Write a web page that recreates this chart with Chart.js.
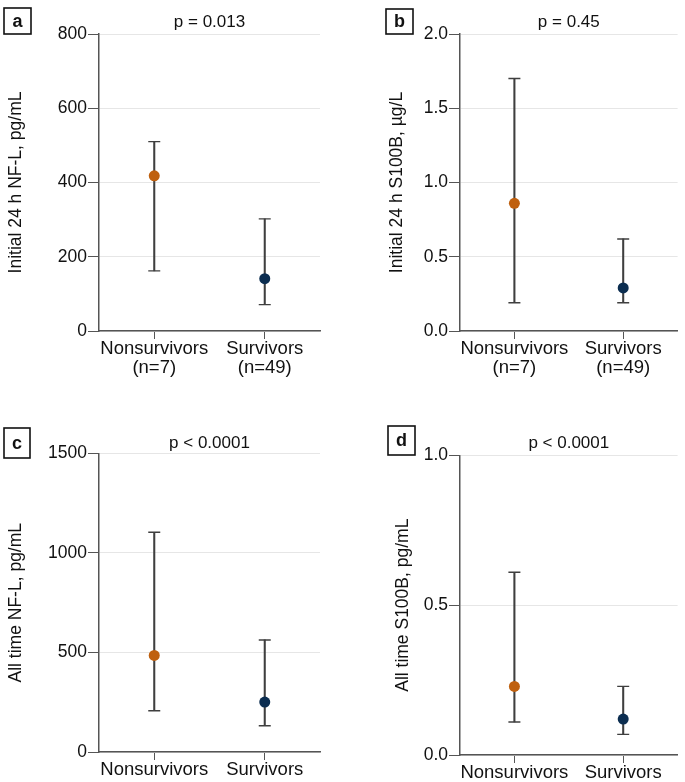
<!DOCTYPE html>
<html>
<head>
<meta charset="utf-8">
<script src="https://cdn.jsdelivr.net/npm/chart.js@4/dist/chart.umd.min.js"></script>
<style>
  body { margin: 0; background: #fff; }
  .panel { position: absolute; }
</style>
</head>
<body>
<div class="panel" style="left:0;top:0;width:342px;height:390px"><canvas id="pa"></canvas></div>
<div class="panel" style="left:342px;top:0;width:343px;height:390px"><canvas id="pb"></canvas></div>
<div class="panel" style="left:0;top:390px;width:342px;height:392px"><canvas id="pc"></canvas></div>
<div class="panel" style="left:342px;top:390px;width:343px;height:392px"><canvas id="pd"></canvas></div>
<script>
// groups
let groups = ['Nonsurvivors', 'Survivors'];
let groupsN = [['Nonsurvivors', '(n=7)'], ['Survivors', '(n=49)']];

// a - initial 24 h NF-L
let nflInitMed = [418, 141];
let nflInitLo = [162, 71];
let nflInitHi = [510, 302];
// b - initial 24 h S100B
let s100InitMed = [0.86, 0.29];
let s100InitLo = [0.19, 0.19];
let s100InitHi = [1.70, 0.62];
// c - all time NF-L
let nflAllMed = [485, 251];
let nflAllLo = [207, 132];
let nflAllHi = [1104, 563];
// d - all time S100B
let s100AllMed = [0.229, 0.12];
let s100AllLo = [0.11, 0.069];
let s100AllHi = [0.61, 0.229];

let ticksA = [0, 200, 400, 600, 800];
let ticksB = [0, 0.5, 1.0, 1.5, 2.0];
let ticksC = [0, 500, 1000, 1500];
let ticksD = [0, 0.5, 1.0];

let pTexts = ['p = 0.013', 'p = 0.45', 'p < 0.0001', 'p < 0.0001'];
let yTitles = ['Initial 24 h NF-L, pg/mL', 'Initial 24 h S100B, \u00b5g/L', 'All time NF-L, pg/mL', 'All time S100B, pg/mL'];
let letters = ['a', 'b', 'c', 'd'];

let dotColors = ['#bf600f', '#0b2d50'];
let barColor = '#3f3f3f';
let font = "'Liberation Sans', Arial, Helvetica, sans-serif";

// boxed panel letter
let letterBox = {
    id: 'letterBox',
    afterDraw(chart, args, opts) {
        let c = chart.ctx;
        c.save();
        c.strokeStyle = '#111';
        c.lineWidth = 1.6;
        c.strokeRect(opts.x, opts.y, opts.w, opts.h);
        c.fillStyle = '#111';
        c.font = 'bold 18px ' + font;
        c.textAlign = 'center';
        c.textBaseline = 'middle';
        c.fillText(opts.text, opts.x + opts.w / 2, opts.y + opts.h / 2 + 1);
        c.restore();
    }
};

function panel(id, i, med, lo, hi, ticks, dec, labels, p) {
    let ct = document.getElementById(id);
    return new Chart(ct, {
        type: 'bar',
        data: {
            labels: labels,
            datasets: [
                {
                    type: 'line',
                    data: med,
                    showLine: false,
                    pointRadius: 5.5,
                    pointBackgroundColor: dotColors,
                    pointBorderWidth: 0
                },
                {
                    type: 'line',
                    data: hi,
                    showLine: false,
                    pointStyle: 'line',
                    pointRadius: 6,
                    pointBorderColor: barColor,
                    pointBorderWidth: 1.4
                },
                {
                    type: 'line',
                    data: lo,
                    showLine: false,
                    pointStyle: 'line',
                    pointRadius: 6,
                    pointBorderColor: barColor,
                    pointBorderWidth: 1.4
                },
                {
                    data: lo.map((v, k) => [v, hi[k]]),
                    backgroundColor: barColor,
                    barThickness: 1.4,
                    borderWidth: 0
                }
            ]
        },
        options: {
            responsive: true,
            maintainAspectRatio: false,
            animation: false,
            layout: { padding: { top: p.top, right: p.right, left: 0, bottom: 0 } },
            plugins: {
                legend: { display: false },
                tooltip: { enabled: false },
                title: {
                    display: true,
                    text: pTexts[i],
                    fullSize: false,
                    color: '#111',
                    font: { family: font, size: 17, weight: 'normal', lineHeight: 1.2 },
                    padding: { top: 12, bottom: p.tb }
                },
                letterBox: p.box
            },
            scales: {
                x: {
                    offset: true,
                    afterFit: s => { s.height = p.xh; },
                    grid: { drawOnChartArea: false, drawTicks: true, tickLength: 8, tickColor: '#555', offset: false },
                    border: { color: '#555', width: 1.5 },
                    ticks: {
                        color: '#111',
                        padding: 1,
                        autoSkip: false,
                        maxRotation: 0,
                        minRotation: 0,
                        font: { family: font, size: 18.5, lineHeight: 1.0 }
                    }
                },
                y: {
                    min: ticks[0],
                    max: ticks[ticks.length - 1],
                    afterFit: s => { s.width = p.yw; },
                    afterBuildTicks: s => { s.ticks = ticks.map(v => ({ value: v })); },
                    grid: { color: '#e6e6e6', lineWidth: 1, tickLength: 11, tickColor: '#555' },
                    border: { color: '#555', width: 1.5 },
                    ticks: {
                        color: '#111',
                        padding: 1,
                        font: { family: font, size: 17.5 },
                        callback: v => v.toFixed(dec)
                    },
                    title: {
                        display: true,
                        text: yTitles[i],
                        color: '#111',
                        font: { family: font, size: 17.5, lineHeight: 1.2 },
                        padding: { top: p.tp, bottom: 0 }
                    }
                }
            }
        },
        plugins: [letterBox]
    });
}

panel('pa', 0, nflInitMed, nflInitLo, nflInitHi, ticksA, 0, groupsN,
    { top: 0, right: 22, tb: 1.6, xh: 59, yw: 99, tp: 6, box: { x: 4, y: 8, w: 27, h: 26, text: letters[0] } });
panel('pb', 1, s100InitMed, s100InitLo, s100InitHi, ticksB, 1, groupsN,
    { top: 0, right: 2, tb: 1.6, xh: 59, yw: 118, tp: 45, box: { x: 44, y: 9, w: 27, h: 25, text: letters[1] } });
panel('pc', 2, nflAllMed, nflAllLo, nflAllHi, ticksC, 0, groups,
    { top: 31, right: 22, tb: 0, xh: 30, yw: 99, tp: 6, box: { x: 4, y: 38, w: 26, h: 30, text: letters[2] } });
panel('pd', 3, s100AllMed, s100AllLo, s100AllHi, ticksD, 1, groups,
    { top: 31, right: 2, tb: 2, xh: 27, yw: 118, tp: 51, box: { x: 46, y: 36, w: 27, h: 29, text: letters[3] } });
</script>
</body>
</html>
